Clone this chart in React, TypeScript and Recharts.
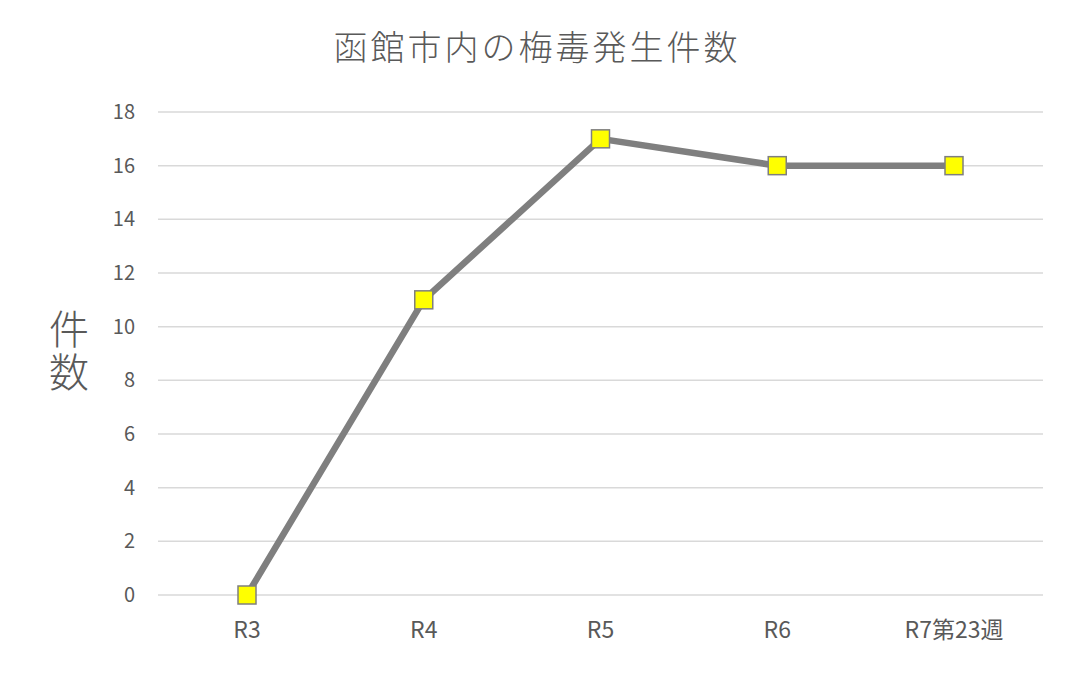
import React from "react";
import { LineChart, Line, XAxis, YAxis, CartesianGrid } from "recharts";

const categories = ["R3", "R4", "R5", "R6", "R7第23週"];
const cases = [0, 11, 17, 16, 16];
const yTicks = [0, 2, 4, 6, 8, 10, 12, 14, 16, 18];
const titleText = "函館市内の梅毒発生件数";
const yLabelText = "件数";

const data = categories.map((c, i) => ({ name: c, value: cases[i] }));

const FONT = "'Noto Sans CJK JP', 'Noto Sans', sans-serif";
const TEXT = "#595959";

const SquareDot = (props: any) => {
  const { cx, cy, index } = props;
  if (cx == null || cy == null) return null;
  return (
    <rect
      key={`dot-${index}`}
      x={cx - 9}
      y={cy - 9}
      width={18}
      height={18}
      fill="#FFFF00"
      stroke="#7F7F7F"
      strokeWidth={1.5}
    />
  );
};

export default function App() {
  return (
    <div
      style={{
        position: "absolute",
        left: 0,
        top: 0,
        width: 1066,
        height: 676,
        background: "#fff",
        fontFamily: FONT,
      }}
    >
      <div
        style={{
          position: "absolute",
          left: 0,
          width: 1066,
          top: 22,
          textAlign: "center",
          fontSize: 34,
          letterSpacing: 3,
          color: TEXT,
          lineHeight: "48px",
          fontWeight: 300,
          paddingLeft: 4,
        }}
      >
        {titleText}
      </div>
      <div
        style={{
          position: "absolute",
          left: 47,
          top: 309,
          fontSize: 40,
          lineHeight: "44px",
          width: 44,
          writingMode: "vertical-rl",
          letterSpacing: 3,
          color: TEXT,
          fontWeight: 300,
        }}
      >
        {yLabelText}
      </div>
      <LineChart
        width={1066}
        height={676}
        data={data}
        margin={{ top: 112, right: 23, bottom: 0, left: 0 }}
        style={{ position: "absolute", left: 0, top: 0 }}
      >
        <CartesianGrid vertical={false} stroke="#D9D9D9" strokeWidth={1.5} />
        <XAxis
          dataKey="name"
          height={81}
          axisLine={false}
          tickLine={false}
          tickSize={0}
          tickMargin={27}
          padding={{ left: 89, right: 89 }}
          interval={0}
          tick={{ fill: TEXT, fontSize: 23, fontFamily: FONT }}
        />
        <YAxis
          width={158}
          domain={[0, 18]}
          ticks={yTicks}
          axisLine={false}
          tickLine={false}
          tickSize={0}
          tickMargin={23}
          interval={0}
          tick={{ fill: TEXT, fontSize: 20, fontFamily: FONT }}
        />
        <Line
          type="linear"
          dataKey="value"
          stroke="#7F7F7F"
          strokeWidth={6.5}
          dot={<SquareDot />}
          activeDot={false}
          isAnimationActive={false}
        />
      </LineChart>
    </div>
  );
}
